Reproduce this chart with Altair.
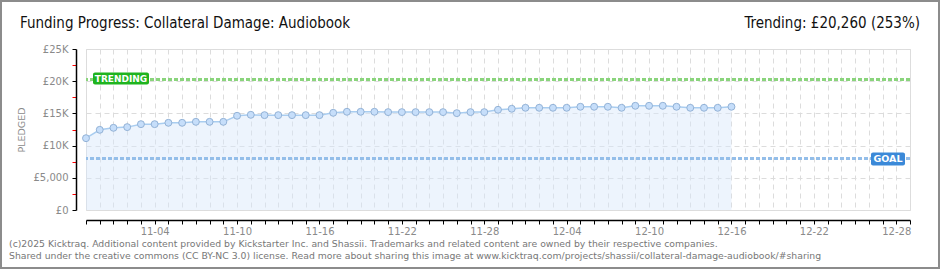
import altair as alt
import pandas as pd

# ---------------- data ----------------
pledged = [11150, 12450, 12760, 12870, 13330, 13330, 13540, 13540, 13690, 13690,
           13690, 14630, 14780, 14730, 14730, 14730, 14730, 14730, 15090, 15250,
           15250, 15250, 15200, 15200, 15200, 15200, 15200, 15040, 15200, 15200,
           15560, 15720, 15870, 15870, 15870, 15870, 16030, 16030, 16030, 15870,
           16180, 16180, 16180, 16030, 15870, 15870, 15870, 16030]
dates = pd.date_range("2025-10-30", periods=len(pledged), freq="D").strftime("%Y-%m-%d").tolist()
goal_value = 8000
trending_value = 20260
trending_pct = 253
y_major = [0, 5000, 10000, 15000, 20000, 25000]
y_minor = [2500, 7500, 12500, 17500, 22500]
title_text = "Funding Progress: Collateral Damage: Audiobook"
trend_text = "Trending:  £20,260 (253%)"
footer1 = ("(c)2025 Kicktraq. Additional content provided by Kickstarter Inc. and Shassii. "
           "Trademarks and related content are owned by their respective companies.")
footer2 = ("Shared under the creative commons (CC BY-NC 3.0) license. Read more about sharing "
           "this image at www.kicktraq.com/projects/shassii/collateral-damage-audiobook/#sharing")

df = pd.DataFrame({"date": dates, "pledged": pledged})
lines_df = pd.DataFrame({"v": [trending_value, goal_value], "label": ["TRENDING", "GOAL"]})

DAY = 86400000
T0 = int(pd.Timestamp("2025-10-30", tz="UTC").timestamp() * 1000)
T1 = int(pd.Timestamp("2025-12-29", tz="UTC").timestamp() * 1000)
x_days = [int(v) for v in range(T0, T1 + 1, DAY)]

W, H = 824, 161
GRID = "#dcdcdc"
LABEL = "#8a8a8a"
FONT = "DejaVu Sans"

x_scale = alt.Scale(type="utc", domain=[T0, T1], nice=False)
y_scale = alt.Scale(domain=[0, 25000], nice=False, zero=True)

y_all = sorted(y_major + y_minor)
minor_test = "datum.value % 5000 != 0"

x_axis = alt.Axis(
    values=x_days,
    labelExpr=f"(round((datum.value - {T0})/{DAY}) % 6 == 5) ? utcFormat(datum.value, '%m-%d') : ''",
    offset=10, tickSize=4, tickColor="black", domainColor="black", domainWidth=1.5,
    labelColor=LABEL, labelFont=FONT, labelFontSize=10, labelPadding=2, labelOverlap=False,
    labelFlush=False,
    grid=True, gridColor=GRID, gridDash=[5, 4], title=None,
)
y_axis = alt.Axis(
    values=y_all,
    labelExpr="datum.value % 5000 != 0 ? '' : (datum.value == 0 ? '£0' : (datum.value == 5000 ? '£5,000' : '£' + datum.value/1000 + 'K'))",
    offset=10, tickSize=4, labelOverlap=False,
    tickColor={"condition": {"test": minor_test, "value": "#ff0000"}, "value": "black"},
    gridOpacity={"condition": {"test": minor_test, "value": 0}, "value": 1},
    domainColor="black", domainWidth=1.5,
    labelColor=LABEL, labelFont=FONT, labelFontSize=10, labelPadding=4,
    grid=True, gridColor=GRID, gridDash=[5, 4],
    title="PLEDGED", titleColor=LABEL, titleFont=FONT, titleFontSize=9.5,
    titleFontWeight="normal", titlePadding=7,
)


def X(field):
    return alt.X(field, scale=x_scale, axis=x_axis)


def Y(field):
    return alt.Y(field, scale=y_scale, axis=y_axis, title="PLEDGED")


base = alt.Chart(df)

area = base.mark_area(color="#d6e7fb", opacity=0.45).encode(x=X("date:T"), y=Y("pledged:Q"))
line = base.mark_line(color="#a9cdf0", strokeWidth=1.5).encode(x=X("date:T"), y=Y("pledged:Q"))
points = base.mark_circle(size=48, color="#c6defa", opacity=1, stroke="#93b2d6", strokeWidth=1).encode(
    x=X("date:T"), y=Y("pledged:Q"))

trend_rule = alt.Chart(lines_df).transform_filter("datum.label == 'TRENDING'").mark_rule(
    color="#8ad47c", strokeWidth=3, strokeDash=[4, 2]).encode(y=Y("v:Q"))
goal_rule = alt.Chart(lines_df).transform_filter("datum.label == 'GOAL'").mark_rule(
    color="#94bee9", strokeWidth=3, strokeDash=[4, 2]).encode(y=Y("v:Q"))

trend_badge = alt.Chart(lines_df).transform_filter("datum.label == 'TRENDING'").mark_rect(
    color="#1fb41f", cornerRadius=2, yOffset=-7, y2Offset=5).encode(
    x=alt.value(7), x2=alt.value(63), y=Y("v:Q"), y2="v:Q")
trend_label = alt.Chart(lines_df).transform_filter("datum.label == 'TRENDING'").mark_text(
    color="white", font=FONT, fontSize=9, fontWeight="bold", dy=-1).encode(
    x=alt.value(35), y=Y("v:Q"), text="label:N")

goal_badge = alt.Chart(lines_df).transform_filter("datum.label == 'GOAL'").mark_rect(
    color="#3b89d8", cornerRadius=2, yOffset=-6, y2Offset=7).encode(
    x=alt.value(785), x2=alt.value(819), y=Y("v:Q"), y2="v:Q")
goal_label = alt.Chart(lines_df).transform_filter("datum.label == 'GOAL'").mark_text(
    color="white", font=FONT, fontSize=9.5, fontWeight="bold", dy=1).encode(
    x=alt.value(802), y=Y("v:Q"), text="label:N")

txt_df = pd.DataFrame({"t": [title_text, trend_text, footer1, footer2]})
title_mark = alt.Chart(txt_df).transform_filter(f"datum.t == {title_text!r}").mark_text(
    align="left", baseline="alphabetic", font="DejaVu Sans Condensed", fontSize=15, color="#111").encode(
    x=alt.value(-66), y=alt.value(-21), text="t:N")
trend_mark = alt.Chart(txt_df).transform_filter(f"datum.t == {trend_text!r}").mark_text(
    align="right", baseline="alphabetic", font="DejaVu Sans Condensed", fontSize=15, color="#111").encode(
    x=alt.value(834), y=alt.value(-21), text="t:N")
foot1 = alt.Chart(txt_df).transform_filter(f"datum.t == {footer1!r}").mark_text(
    align="left", baseline="alphabetic", font=FONT, fontSize=9.3, color="#777").encode(
    x=alt.value(-77), y=alt.value(198), text="t:N")
foot2 = alt.Chart(txt_df).transform_filter(f"datum.t == {footer2!r}").mark_text(
    align="left", baseline="alphabetic", font=FONT, fontSize=9.3, color="#777").encode(
    x=alt.value(-77), y=alt.value(210), text="t:N")

frame_df = pd.DataFrame({"k": [1]})
frame = alt.Chart(frame_df).mark_rect(fill="transparent", stroke="#8c8c8c", strokeWidth=2).encode(
    x=alt.value(-85), x2=alt.value(W + 29), y=alt.value(-48), y2=alt.value(H + 58))

chart = alt.layer(
    area, goal_rule, trend_rule, line, points,
    trend_badge, trend_label, goal_badge, goal_label,
    title_mark, trend_mark, foot1, foot2, frame,
).properties(
    width=W, height=H,
    padding={"left": 86, "top": 49, "right": 30, "bottom": 60},
    autosize=alt.AutoSizeParams(type="none"),
).configure_view(strokeWidth=0, stroke="transparent").configure(background="white")

chart.save("out.html", embed_options={"renderer": "svg", "actions": False})
